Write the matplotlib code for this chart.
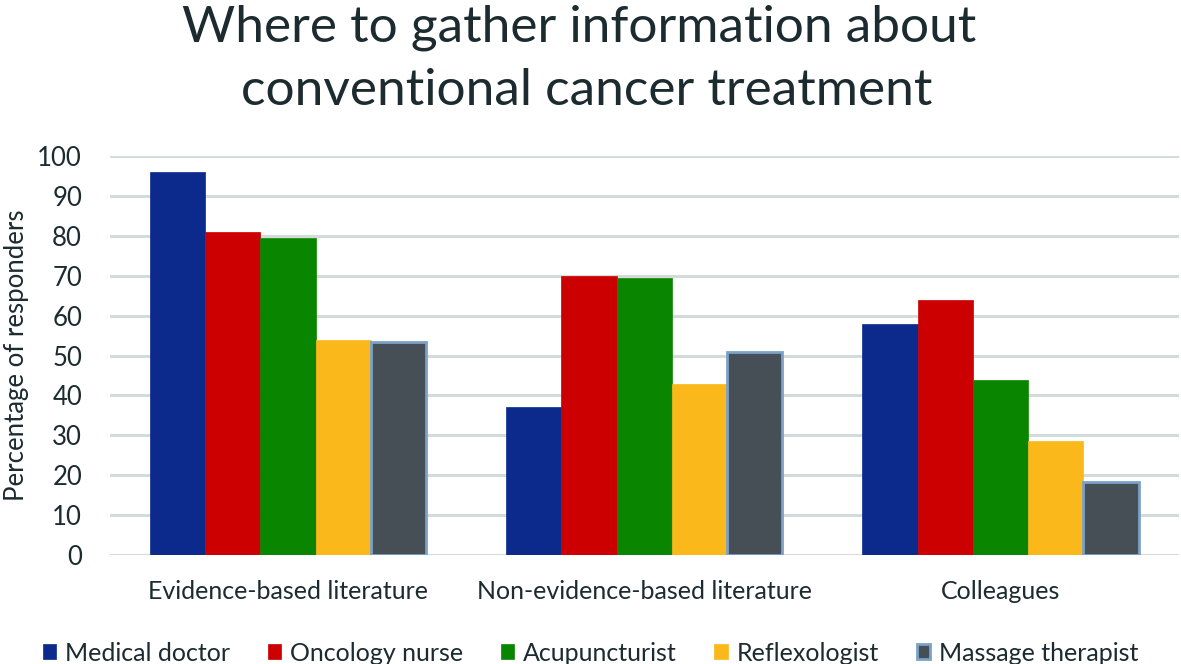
import matplotlib.pyplot as plt
import numpy as np

plt.rcParams['font.family'] = ['Lato', 'DejaVu Sans']

categories = ['Evidence-based literature', 'Non-evidence-based literature', 'Colleagues']
professions = ['Medical doctor', 'Oncology nurse', 'Acupuncturist', 'Reflexologist', 'Massage therapist']

# percentage per profession, one value per category
medical_doctor = [96, 37, 58]
oncology_nurse = [81, 70, 64]
acupuncturist = [79.5, 69.5, 44]
reflexologist = [54, 43, 28.5]
massage_therapist = [53.5, 51, 18.3]

series = [medical_doctor, oncology_nurse, acupuncturist, reflexologist, massage_therapist]
colors = ['#0b2a8c', '#cc0000', '#0a8500', '#fbb81a', '#454f55']
edges = ['#0b2a8c', '#cc0000', '#0a8500', '#fbb81a', '#7ba1c8']
text_col = '#1c2b2f'

fig = plt.figure(figsize=(11.81, 6.64), dpi=100)
ax = fig.add_axes([0.093, 0.164, 0.905, 0.601])

x = np.arange(len(categories))
width = 0.155
for i, vals in enumerate(series):
    offset = (i - 2) * width
    lw = 2.0 if i == 4 else 0.5
    ax.bar(x + offset, vals, width, color=colors[i], edgecolor=edges[i],
           linewidth=lw, label=professions[i], zorder=3)

ax.set_xlim(-0.5, 2.5)
ax.set_ylim(0, 100)
ax.set_yticks(np.arange(0, 101, 10))
ax.yaxis.grid(True, color='#d3dbdb', linewidth=2.2, zorder=0)
ax.set_axisbelow(True)
for s in ax.spines.values():
    s.set_visible(False)
ax.tick_params(axis='both', length=0, colors=text_col)
ax.tick_params(axis='y', pad=20, labelsize=18.5)
ax.tick_params(axis='x', pad=18, labelsize=18)
ax.set_xticks(x)
ax.set_xticklabels(categories)
ax.set_ylabel('Percentage of responders', fontsize=18.5, color=text_col, labelpad=6)

# title, two lines placed by baseline
fig.text(0.49, 0.937, 'Where to gather information about', ha='center', va='baseline',
         fontsize=37, color=text_col)
fig.text(0.497, 0.842, 'conventional cancer treatment', ha='center', va='baseline',
         fontsize=37, color=text_col)

leg = fig.legend(loc='lower center', bbox_to_anchor=(0.5, -0.035), ncol=5, frameon=False,
                 fontsize=18, handlelength=0.55, handleheight=0.55, handletextpad=0.35,
                 columnspacing=1.5)
for t in leg.get_texts():
    t.set_color(text_col)

fig.savefig('out.png', dpi=100)
